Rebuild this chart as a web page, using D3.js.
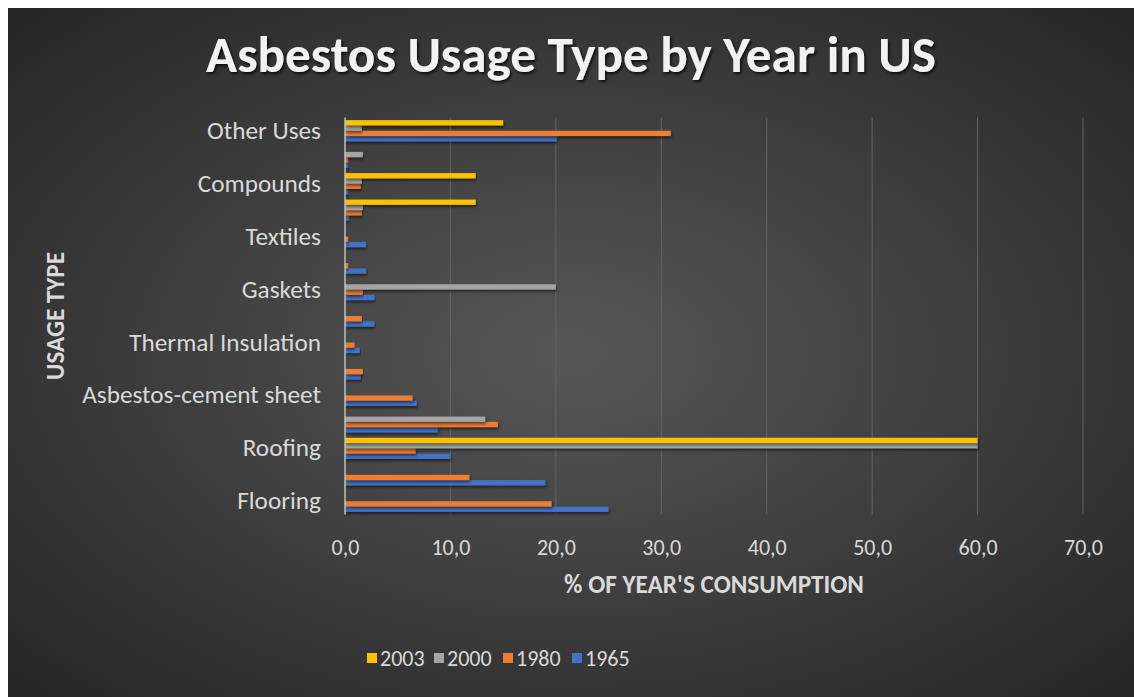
<!DOCTYPE html>
<html><head><meta charset="utf-8">
<script src="https://cdn.jsdelivr.net/npm/d3@7"></script>
<style>
html,body{margin:0;padding:0;background:#fff;}
svg{display:block;}
</style></head>
<body>
<svg id="chart" width="1134" height="697"></svg>
<script>
// ---- data ----
const categories = ["Flooring","Asbestos-cement pipe","Roofing","Packing","Asbestos-cement sheet","Coatings","Thermal Insulation","Friction products","Gaskets","Plastics","Textiles","Paper products","Compounds","Electrical insulation","Other Uses"];
const years = ["1965","1980","2000","2003"];
const v1965 = [25.0, 19.0, 10.0, 8.8, 6.8, 1.5, 1.4, 2.8, 2.8, 2.0, 2.0, 0.4, 0.3, 0.3, 20.1];
const v1980 = [19.6, 11.8, 6.7, 14.5, 6.4, 1.7, 0.9, 1.6, 1.7, 0.3, 0.3, 1.6, 1.5, 0.3, 30.9];
const v2000 = [0, 0, 60.0, 13.3, 0, 0, 0, 0, 20.0, 0, 0, 1.7, 1.6, 1.7, 1.6];
const v2003 = [0, 0, 60.0, 0, 0, 0, 0, 0, 0, 0, 0, 12.4, 12.4, 0, 15.0];
const xTicks = [0, 10, 20, 30, 40, 50, 60, 70];
const colors = {"1965":"#4472C4","1980":"#ED7D31","2000":"#A5A5A5","2003":"#FFC000"};
const seriesValues = {"1965":v1965,"1980":v1980,"2000":v2000,"2003":v2003};

const FONT = "Calibri, Carlito, 'Open Sans', 'Noto Sans', sans-serif";
const svg = d3.select("#chart");
const defs = svg.append("defs");

const grad = defs.append("radialGradient").attr("id","bg")
  .attr("cx","50%").attr("cy","50%").attr("r","70%");
grad.append("stop").attr("offset","0%").attr("stop-color","#575757");
grad.append("stop").attr("offset","100%").attr("stop-color","#262626");

const sh = defs.append("filter").attr("id","shadow").attr("x","-5%").attr("y","-50%").attr("width","110%").attr("height","250%");
sh.append("feDropShadow").attr("dx",1).attr("dy",2).attr("stdDeviation",1.5).attr("flood-color","#000").attr("flood-opacity",0.55);
const tsh = defs.append("filter").attr("id","tshadow").attr("x","-5%").attr("y","-30%").attr("width","110%").attr("height","160%");
tsh.append("feDropShadow").attr("dx",1.5).attr("dy",2).attr("stdDeviation",1.5).attr("flood-color","#000").attr("flood-opacity",0.8);

svg.append("rect").attr("x",8).attr("y",8).attr("width",1126).attr("height",689).attr("fill","url(#bg)");

function fitText(sel, target){
  const w = sel.node().getComputedTextLength();
  const fs = parseFloat(sel.attr("font-size"));
  sel.attr("font-size", fs*target/w);
}

// ---- scales ----
const plot = {left:345, right:1083, top:117.5, bottom:514.5};
const x = d3.scaleLinear().domain([0,70]).range([plot.left, plot.right]);
const y = d3.scaleBand().domain(categories.slice().reverse()).range([plot.top, plot.bottom])
  .paddingInner(0.2).paddingOuter(0.1);
const yInner = d3.scaleBand().domain(years.slice().reverse()).range([0, y.bandwidth()]);

// gridlines
svg.append("g").selectAll("line").data(xTicks.slice(1)).join("line")
  .attr("x1",d=>x(d)).attr("x2",d=>x(d)).attr("y1",plot.top).attr("y2",plot.bottom)
  .attr("stroke","#646464").attr("stroke-width",1);

// bars
const groups = svg.append("g").selectAll("g").data(categories).join("g")
  .attr("transform",d=>`translate(0,${y(d)})`);
groups.selectAll("rect").data((d,i)=>years.map(yr=>({yr, v:seriesValues[yr][i]}))).join("rect")
  .filter(d=>d.v>0)
  .attr("x",x(0)).attr("y",d=>yInner(d.yr)).attr("height",yInner.bandwidth())
  .attr("width",d=>x(d.v)-x(0)).attr("fill",d=>colors[d.yr]).attr("filter","url(#shadow)");

// axis line
svg.append("line").attr("x1",plot.left).attr("x2",plot.left).attr("y1",plot.top).attr("y2",plot.bottom)
  .attr("stroke","#bfbfbf").attr("stroke-width",1.5);

// y axis labels (every other category)
const yAxis = d3.axisLeft(y).tickValues(categories.filter((c,i)=>i%2===0)).tickSize(0).tickPadding(0);
const yg = svg.append("g").attr("transform",`translate(321,0)`).call(yAxis);
yg.select(".domain").remove();
yg.attr("font-family",FONT).attr("font-size",22);
yg.selectAll("text").attr("fill","#d9d9d9").attr("dy","0.32em");
const ref = yg.selectAll("text").filter(d=>d==="Asbestos-cement sheet");
const w0 = ref.node().getComputedTextLength();
yg.attr("font-size",22*239/w0);

// x axis labels
const fmt = d=>d3.format(".1f")(d).replace(".",",");
const xAxis = d3.axisBottom(x).tickValues(xTicks).tickFormat(fmt).tickSize(0).tickPadding(0);
const xg = svg.append("g").attr("transform",`translate(0,555)`).call(xAxis);
xg.select(".domain").remove();
xg.attr("font-family",FONT).attr("font-size",22);
xg.selectAll("text").attr("fill","#d9d9d9").attr("dy","0");

// title
const title = svg.append("text").attr("x",571).attr("y",72).attr("text-anchor","middle")
  .attr("font-family",FONT).attr("font-weight","600").attr("font-size",40).attr("fill","#f2f2f2")
  .attr("filter","url(#tshadow)").text("Asbestos Usage Type by Year in US");
fitText(title, 730);

// axis titles
const xt = svg.append("text").attr("x",714).attr("y",593).attr("text-anchor","middle")
  .attr("font-family",FONT).attr("font-weight","bold").attr("font-size",18).attr("fill","#d9d9d9")
  .text("% OF YEAR'S CONSUMPTION");
fitText(xt, 300);
const yt = svg.append("text").attr("transform","translate(64,316) rotate(-90)").attr("text-anchor","middle")
  .attr("font-family",FONT).attr("font-weight","bold").attr("font-size",18).attr("fill","#d9d9d9")
  .text("USAGE TYPE");
fitText(yt, 128);

// legend
const legendOrder = ["2003","2000","1980","1965"];
const lx = [367, 434, 503, 572];
const lg = svg.append("g").attr("font-family",FONT).attr("font-size",22)
  .selectAll("g").data(legendOrder).join("g")
  .attr("transform",(d,i)=>`translate(${lx[i]},658)`);
lg.append("rect").attr("x",0).attr("y",-5).attr("width",10).attr("height",10).attr("fill",d=>colors[d]);
lg.append("text").attr("x",13).attr("y",0).attr("dy","0.35em")
  .attr("fill","#d9d9d9").text(d=>d);
</script>
</body></html>
